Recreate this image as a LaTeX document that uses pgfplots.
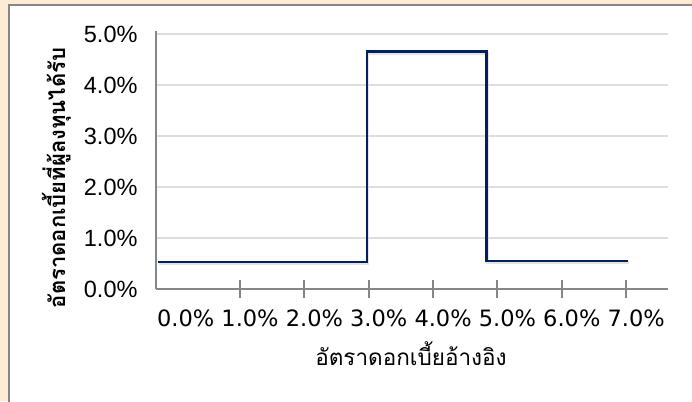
\documentclass[border=0pt]{standalone}
\usepackage{fontspec}
\setmainfont{Liberation Sans}
\newfontfamily\thaifont[Script=Thai]{Loma}
\newfontfamily\dejavu{DejaVu Sans}
\usepackage{pgfplots}
\pgfplotsset{compat=1.18}
\definecolor{peach}{RGB}{253,235,214}
\definecolor{navy}{RGB}{0,32,96}
\definecolor{gridgray}{RGB}{222,222,222}
\definecolor{axgray}{RGB}{134,134,134}
\begin{document}
\begin{tikzpicture}[x=1pt,y=1pt]
\fill[peach] (0,0) rectangle (692,401);
\begin{scope}
\clip (0,0) rectangle (692,401);
\filldraw[fill=white, draw=axgray, line width=2pt] (9,-20) rectangle (720,396);
\end{scope}
\begin{axis}[
  at={(156pt,112pt)}, anchor=south west,
  scale only axis, width=512pt, height=258pt,
  xmin=-0.306, xmax=7.65, ymin=0, ymax=5.06,
  axis x line*=bottom, axis y line*=left,
  axis line style={axgray, line width=2pt},
  ytick={0,1,2,3,4,5},
  yticklabels={0.0\%,1.0\%,2.0\%,3.0\%,4.0\%,5.0\%},
  ytick style={draw=none},
  yticklabel style={font=\fontsize{23.5}{24}\selectfont, anchor=east, xshift=-6pt},
  ymajorgrids, grid style={gridgray, line width=2pt},
  xtick={1,2,3,4,5,6,7},
  xticklabels={1.0\%,2.0\%,3.0\%,4.0\%,5.0\%,6.0\%,7.0\%},
  extra x ticks={0}, extra x tick labels={0.0\%},
  extra x tick style={major tick length=0pt, xmajorgrids=false, xticklabel style={yshift=-9pt}},
  xtick style={axgray, line width=2pt},
  major tick length=18pt, tick align=center,
  xticklabel style={font=\dejavu\fontsize{22.5}{23}\selectfont, xshift=10pt, anchor=north, yshift=-8pt},
  clip=false,
]
\addplot[gray!35, line width=3pt, opacity=0.6, xshift=1pt, yshift=-2pt] coordinates {(-0.28,0.53) (2.97,0.53) (2.97,4.66) (4.83,4.66) (4.83,0.55) (7.03,0.55)};
\addplot[navy, line width=2.5pt] coordinates {(-0.28,0.53) (2.97,0.53) (2.97,4.66) (4.83,4.66) (4.83,0.55) (7.03,0.55)};
\end{axis}
\node[anchor=base, font=\thaifont\fontsize{22.5}{23}\selectfont] at (411,36) {อัตราดอกเบี้ยอ้างอิง};
\node[anchor=base, rotate=90, font=\thaifont\bfseries\fontsize{22}{22}\selectfont] at (65,223) {อัตราดอกเบี้ยที่ผู้ลงทุนได้รับ};
\end{tikzpicture}
\end{document}
